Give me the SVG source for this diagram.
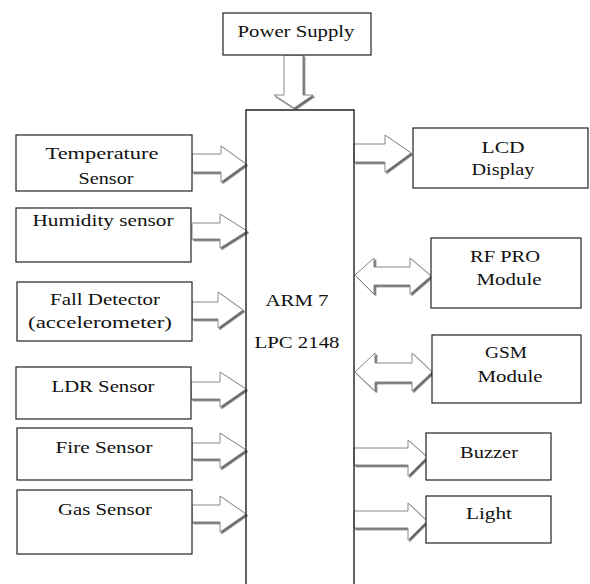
<svg xmlns="http://www.w3.org/2000/svg" width="590" height="584" viewBox="0 0 590 584">
<defs>
<filter id="sh" x="-20%" y="-20%" width="150%" height="150%">
<feDropShadow dx="1.6" dy="1.6" stdDeviation="0.5" flood-color="#555" flood-opacity="0.9"/>
</filter>
</defs>
<style>
.box{fill:#fff;stroke:#222;stroke-width:1.2}
.arm{fill:none;stroke:#222;stroke-width:1.4}
.ar{fill:#fff;stroke:#888;stroke-width:1;stroke-linejoin:miter;filter:url(#sh)}
.t{font-family:"Liberation Serif","Times New Roman",serif;font-size:17.5px;fill:#111;text-anchor:middle}
</style>
<rect width="590" height="584" fill="#fff"/>
<g id="connectors">
<polygon class="ar" points="284,55 303,55 303,95 313,95 294,108 274,95 284,95"/>
<polygon class="ar" points="192,154 221,154 221,146 246,164 221,182 221,172 192,172"/>
<polygon class="ar" points="192,223 220,223 220,214 247,231 220,248 220,239 192,239"/>
<polygon class="ar" points="192,302 218,302 218,292 243,310 218,328 218,319 192,319"/>
<polygon class="ar" points="191,382 220,382 220,372 246,389 220,407 220,399 191,399"/>
<polygon class="ar" points="192,443 220,443 220,433 246,450 220,468 220,459 192,459"/>
<polygon class="ar" points="192,505 220,505 220,496 246,514 220,532 220,522 192,522"/>
<polygon class="ar" points="354,144 385,144 385,135 411,153 385,172 385,162 354,162"/>
<polygon class="ar" points="355,275 374,258 374,267 410,267 410,258 431,276 410,294 410,285 374,285 374,294"/>
<polygon class="ar" points="355,372 375,353 375,363 412,363 412,353 432,372 412,391 412,382 375,382 375,391"/>
<polygon class="ar" points="354,448 408,448 408,440 427,457 408,476 408,465 354,465"/>
<polygon class="ar" points="354,511 408,511 408,503 427,521 408,540 408,528 354,528"/>
</g>
<g id="arm">
<path class="arm" d="M246,590 V110 H354 V590"/>
<text class="t" x="297" y="306" textLength="63" lengthAdjust="spacingAndGlyphs">ARM 7</text>
<text class="t" x="297" y="348" textLength="85" lengthAdjust="spacingAndGlyphs">LPC 2148</text>
</g>
<g id="power">
<rect class="box" x="223" y="13" width="148" height="42"/>
<text class="t" x="296" y="37" textLength="117" lengthAdjust="spacingAndGlyphs">Power Supply</text>
</g>
<g id="temperature">
<rect class="box" x="16" y="135" width="176" height="56"/>
<text class="t" x="102" y="159" textLength="113" lengthAdjust="spacingAndGlyphs">Temperature</text>
<text class="t" x="106" y="184" textLength="55" lengthAdjust="spacingAndGlyphs">Sensor</text>
</g>
<g id="humidity">
<rect class="box" x="16" y="208" width="175" height="54"/>
<text class="t" x="103" y="226" textLength="141" lengthAdjust="spacingAndGlyphs">Humidity sensor</text>
</g>
<g id="fall">
<rect class="box" x="17" y="282" width="175" height="59"/>
<text class="t" x="105" y="305" textLength="110" lengthAdjust="spacingAndGlyphs">Fall Detector</text>
<text class="t" x="100" y="328" textLength="144" lengthAdjust="spacingAndGlyphs">(accelerometer)</text>
</g>
<g id="ldr">
<rect class="box" x="16" y="367" width="175" height="52"/>
<text class="t" x="103" y="392" textLength="103" lengthAdjust="spacingAndGlyphs">LDR Sensor</text>
</g>
<g id="fire">
<rect class="box" x="17" y="428" width="175" height="52"/>
<text class="t" x="104" y="453" textLength="97" lengthAdjust="spacingAndGlyphs">Fire Sensor</text>
</g>
<g id="gas">
<rect class="box" x="17" y="490" width="175" height="64"/>
<text class="t" x="105" y="515" textLength="94" lengthAdjust="spacingAndGlyphs">Gas Sensor</text>
</g>
<g id="lcd">
<rect class="box" x="413" y="128" width="175" height="60"/>
<text class="t" x="503" y="153" textLength="43" lengthAdjust="spacingAndGlyphs">LCD</text>
<text class="t" x="503" y="175" textLength="63" lengthAdjust="spacingAndGlyphs">Display</text>
</g>
<g id="rf">
<rect class="box" x="431" y="238" width="150" height="70"/>
<text class="t" x="505" y="262" textLength="70" lengthAdjust="spacingAndGlyphs">RF PRO</text>
<text class="t" x="509" y="285" textLength="65" lengthAdjust="spacingAndGlyphs">Module</text>
</g>
<g id="gsm">
<rect class="box" x="432" y="335" width="149" height="68"/>
<text class="t" x="506" y="358" textLength="42" lengthAdjust="spacingAndGlyphs">GSM</text>
<text class="t" x="510" y="382" textLength="65" lengthAdjust="spacingAndGlyphs">Module</text>
</g>
<g id="buzzer">
<rect class="box" x="426" y="433" width="125" height="47"/>
<text class="t" x="489" y="458" textLength="58" lengthAdjust="spacingAndGlyphs">Buzzer</text>
</g>
<g id="light">
<rect class="box" x="426" y="496" width="125" height="47"/>
<text class="t" x="489" y="519" textLength="46" lengthAdjust="spacingAndGlyphs">Light</text>
</g>
</svg>
